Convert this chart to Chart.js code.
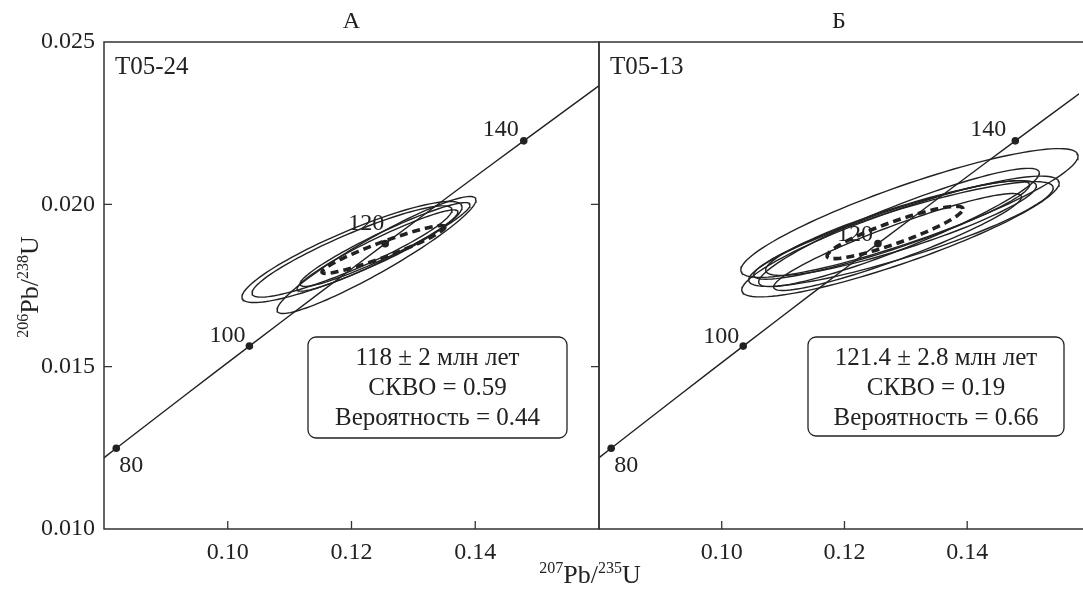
<!DOCTYPE html>
<html>
<head>
<meta charset="utf-8">
<script src="https://cdn.jsdelivr.net/npm/chart.js@4/dist/chart.umd.min.js"></script>
<style>
  html,body{margin:0;padding:0;background:#fff;}
  #wrap{position:relative;width:1083px;height:590px;overflow:hidden;}
  canvas{position:absolute;left:0;top:0;}
</style>
</head>
<body>
<div id="wrap">
  <canvas id="cA" width="1083" height="590"></canvas>
  <canvas id="cB" width="1083" height="590"></canvas>
</div>
<script>
// ---------------- DATA ----------------
const panelTitles = ['А', 'Б'];
const sampleNames = ['T05-24', 'T05-13'];
const xTickValues = [0.10, 0.12, 0.14];
const yTickValues = [0.010, 0.015, 0.020, 0.025];

// concordia curve (207Pb/235U, 206Pb/238U)
const concordiaAges = [70, 80, 90, 100, 110, 120, 130, 140, 150, 160];
const concordiaX = [0.07137, 0.08198, 0.09268, 0.10350, 0.11442, 0.12545, 0.13659, 0.14784, 0.15920, 0.17067];
const concordiaY = [0.010918, 0.012487, 0.014059, 0.015633, 0.017210, 0.018789, 0.020371, 0.021955, 0.023542, 0.025131];

// age markers on the concordia
const markerAges = ['80', '100', '120', '140'];
const markerX = [0.08198, 0.10350, 0.12545, 0.14784];
const markerY = [0.012487, 0.015633, 0.018789, 0.021955];

// error ellipses, panel A (center, half-extent x, half-extent y, correlation)
const ellA_cx  = [0.12008, 0.12008, 0.12404, 0.12542, 0.12420];
const ellA_cy  = [0.018532, 0.018547, 0.018440, 0.018763, 0.018578];
const ellA_sx  = [0.01778, 0.01616, 0.01608, 0.01374, 0.01301];
const ellA_sy  = [0.001557, 0.001406, 0.001802, 0.001291, 0.001251];
const ellA_rho = [0.890, 0.909, 0.940, 0.943, 0.948];

// error ellipses, panel Б
const ellB_cx  = [0.13059, 0.12913, 0.12921, 0.12889, 0.12921, 0.12768, 0.12865];
const ellB_cy  = [0.019733, 0.019009, 0.019086, 0.019287, 0.019271, 0.019210, 0.018840];
const ellB_sx  = [0.02748, 0.02586, 0.02481, 0.02287, 0.02206, 0.02247, 0.02020];
const ellB_sy  = [0.001984, 0.001860, 0.001613, 0.001822, 0.001460, 0.001517, 0.001493];
const ellB_rho = [0.885, 0.886, 0.878, 0.921, 0.886, 0.914, 0.928];

// concordia-age (mean) ellipses, dashed
const meanCx  = [0.12517, 0.12824];
const meanCy  = [0.018609, 0.019133];
const meanSx  = [0.00994, 0.01107];
const meanSy  = [0.000736, 0.000806];
const meanRho = [0.942, 0.898];

// result boxes
const boxTextA = ['118 ± 2 млн лет', 'СКВО = 0.59', 'Вероятность = 0.44'];
const boxTextB = ['121.4 ± 2.8 млн лет', 'СКВО = 0.19', 'Вероятность = 0.66'];

// ---------------- HELPERS ----------------
const FONT = '"Liberation Serif", "Times New Roman", serif';
const INK = '#222';

function ellipsePoints(cx, cy, sx, sy, rho) {
  const pts = [];
  const k = Math.sqrt(1 - rho * rho);
  for (let i = 0; i <= 120; i++) {
    const t = i / 120 * 2 * Math.PI;
    pts.push({x: cx + sx * Math.cos(t), y: cy + sy * (rho * Math.cos(t) + k * Math.sin(t))});
  }
  return pts;
}

function buildDatasets(cx, cy, sx, sy, rho, mIdx) {
  const ds = [];
  ds.push({
    data: concordiaX.map((v, i) => ({x: v, y: concordiaY[i]})),
    showLine: true, borderColor: INK, borderWidth: 1.4, pointRadius: 0, tension: 0.3
  });
  for (let i = 0; i < cx.length; i++) {
    ds.push({
      data: ellipsePoints(cx[i], cy[i], sx[i], sy[i], rho[i]),
      showLine: true, borderColor: INK, borderWidth: 1.4, pointRadius: 0, tension: 0
    });
  }
  ds.push({
    data: ellipsePoints(meanCx[mIdx], meanCy[mIdx], meanSx[mIdx], meanSy[mIdx], meanRho[mIdx]),
    showLine: true, borderColor: INK, borderWidth: 3.6, borderDash: [8, 5], pointRadius: 0, tension: 0
  });
  ds.push({
    data: markerX.map((v, i) => ({x: v, y: markerY[i]})),
    showLine: false, pointRadius: 3.8, pointBackgroundColor: INK, pointBorderColor: INK, borderWidth: 0
  });
  return ds;
}

function roundRectPath(ctx, x, y, w, h, r) {
  ctx.beginPath();
  ctx.moveTo(x + r, y);
  ctx.lineTo(x + w - r, y);
  ctx.arcTo(x + w, y, x + w, y + r, r);
  ctx.lineTo(x + w, y + h - r);
  ctx.arcTo(x + w, y + h, x + w - r, y + h, r);
  ctx.lineTo(x + r, y + h);
  ctx.arcTo(x, y + h, x, y + h - r, r);
  ctx.lineTo(x, y + r);
  ctx.arcTo(x, y, x + r, y, r);
  ctx.closePath();
}

// draw "ᵃPb/ᵇU" with real superscripts, centered at (0,0) baseline-aligned
function drawIsoLabel(ctx, supA, supB) {
  const big = '26px ' + FONT, small = '16px ' + FONT;
  const parts = [[supA, small, -10], ['Pb/', big, 0], [supB, small, -10], ['U', big, 0]];
  let total = 0;
  parts.forEach(p => { ctx.font = p[1]; total += ctx.measureText(p[0]).width; });
  let x = -total / 2;
  ctx.textAlign = 'left';
  ctx.textBaseline = 'alphabetic';
  parts.forEach(p => { ctx.font = p[1]; ctx.fillText(p[0], x, p[2]); x += ctx.measureText(p[0]).width; });
}

function makePlugin(idx) {
  // label offsets for the age markers (pixels, relative to the marker)
  const offs = idx === 0
    ? [[3, 17, 'left'], [-4, -10, 'right'], [-1, -20, 'right'], [-5, -11, 'right']]
    : [[3, 17, 'left'], [-4, -9, 'right'], [-5, -9, 'right'], [-9, -11, 'right']];
  const box = idx === 0 ? {x: 308, y: 337, w: 259, h: 101} : {x: 808, y: 337, w: 256, h: 99};
  const lines = idx === 0 ? boxTextA : boxTextB;
  return {
    id: 'decor' + idx,
    afterDraw(chart) {
      const ctx = chart.ctx;
      const a = chart.chartArea;
      const xs = chart.scales.x, ys = chart.scales.y;
      ctx.save();
      // frame
      ctx.strokeStyle = '#333';
      ctx.lineWidth = 1.5;
      ctx.beginPath();
      if (idx === 0) {
        ctx.rect(a.left, a.top, a.right - a.left, a.bottom - a.top);
      } else {
        ctx.moveTo(a.right + 5, a.top); ctx.lineTo(a.left, a.top);
        ctx.lineTo(a.left, a.bottom); ctx.lineTo(a.right + 5, a.bottom);
      }
      ctx.stroke();
      // inward ticks
      ctx.lineWidth = 1.3;
      ctx.beginPath();
      xTickValues.forEach(v => {
        const px = xs.getPixelForValue(v);
        ctx.moveTo(px, a.bottom); ctx.lineTo(px, a.bottom - 8);
      });
      if (idx === 0) {
        [0.015, 0.020].forEach(v => {
          const py = ys.getPixelForValue(v);
          ctx.moveTo(a.left, py); ctx.lineTo(a.left + 8, py);
          ctx.moveTo(a.right, py); ctx.lineTo(a.right - 8, py);
        });
      }
      ctx.stroke();
      // panel title
      ctx.fillStyle = INK;
      ctx.font = '24px ' + FONT;
      ctx.textAlign = 'center';
      ctx.textBaseline = 'middle';
      ctx.fillText(panelTitles[idx], (a.left + Math.min(a.right, 1083)) / 2, 22);
      // sample name
      ctx.textAlign = 'left';
      ctx.font = '25px ' + FONT;
      ctx.fillText(sampleNames[idx], a.left + 11, 67);
      // age marker labels
      ctx.font = '24px ' + FONT;
      markerAges.forEach((lab, i) => {
        const px = xs.getPixelForValue(markerX[i]);
        const py = ys.getPixelForValue(markerY[i]);
        ctx.textAlign = offs[i][2];
        ctx.fillText(lab, px + offs[i][0], py + offs[i][1]);
      });
      // result box
      ctx.fillStyle = '#fff';
      roundRectPath(ctx, box.x, box.y, box.w, box.h, 8);
      ctx.fill();
      ctx.strokeStyle = INK;
      ctx.lineWidth = 1.3;
      ctx.stroke();
      ctx.fillStyle = INK;
      ctx.textAlign = 'center';
      ctx.font = '25px ' + FONT;
      lines.forEach((t, i) => ctx.fillText(t, box.x + box.w / 2, box.y + 21 + i * 30));
      // axis titles (drawn once, on panel A)
      if (idx === 0) {
        ctx.save();
        ctx.translate(590, 583);
        drawIsoLabel(ctx, '207', '235');
        ctx.restore();
        ctx.save();
        ctx.translate(38, 287);
        ctx.rotate(-Math.PI / 2);
        drawIsoLabel(ctx, '206', '238');
        ctx.restore();
      }
      ctx.restore();
    }
  };
}

function makeChart(canvasId, idx, ell, xMax) {
  return new Chart(document.getElementById(canvasId), {
    type: 'scatter',
    data: {datasets: buildDatasets(ell[0], ell[1], ell[2], ell[3], ell[4], idx)},
    options: {
      responsive: false,
      devicePixelRatio: 1,
      animation: false,
      events: [],
      layout: {padding: idx === 0 ? {left: 0, right: 484, top: 42, bottom: 0} : {left: 599, right: 0, top: 42, bottom: 0}},
      plugins: {legend: {display: false}, tooltip: {enabled: false}},
      scales: {
        x: {
          type: 'linear', min: 0.08, max: xMax,
          grid: {display: false, drawTicks: false},
          border: {display: false},
          afterBuildTicks: s => { s.ticks = xTickValues.map(v => ({value: v})); },
          afterFit: s => { s.height = 61; },
          ticks: {color: INK, padding: 9, maxRotation: 0, autoSkip: false,
                  font: {family: FONT, size: 24},
                  callback: v => v.toFixed(2)}
        },
        y: {
          type: 'linear', min: 0.010, max: 0.025,
          display: idx === 0,
          grid: {display: false, drawTicks: false},
          border: {display: false},
          afterBuildTicks: s => { s.ticks = yTickValues.map(v => ({value: v})); },
          afterFit: s => { s.width = idx === 0 ? 104 : 0; },
          ticks: {color: INK, padding: 9, autoSkip: false,
                  font: {family: FONT, size: 24},
                  callback: v => v.toFixed(3)}
        }
      }
    },
    plugins: [makePlugin(idx)]
  });
}

makeChart('cA', 0, [ellA_cx, ellA_cy, ellA_sx, ellA_sy, ellA_rho], 0.16);
makeChart('cB', 1, [ellB_cx, ellB_cy, ellB_sx, ellB_sy, ellB_rho], 0.15822);
</script>
</body>
</html>
